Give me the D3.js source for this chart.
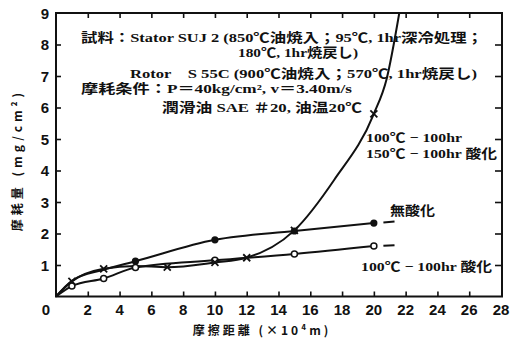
<!DOCTYPE html>
<html>
<head>
<meta charset="utf-8">
<script src="https://cdn.jsdelivr.net/npm/d3@7"></script>
<style>
  body { margin: 0; background: #fff; }
  svg { display: block; }
  .tick-label { font-family: "Liberation Sans Narrow", "Liberation Sans", sans-serif; font-weight: bold; font-size: 15px; fill: #111; }
  .note { font-family: "Liberation Serif", "Noto Sans CJK JP", serif; font-weight: bold; font-size: 13px; fill: #111; }
  .axis-title { font-family: "Noto Sans CJK JP", "Liberation Serif", sans-serif; font-weight: bold; font-size: 12px; fill: #111; }
</style>
</head>
<body>
<div id="chart"></div>
<script>
// wear distance (x10^4 m)
const dist = [0, 1, 3, 5, 10, 15, 20];
// no oxidation (filled circles)
const noOxid = [0, 0.5, 0.85, 1.12, 1.8, 2.08, 2.33];
// 100C-100hr oxidised (open circles)
const oxid100 = [0, 0.33, 0.57, 0.92, 1.15, 1.35, 1.6];
// line tails beyond the last point
const tailX = [20.6, 21.3];
const noOxidTail = [2.35, 2.38];
const oxid100Tail = [1.61, 1.63];
// 100C-100hr + 150C-100hr oxidised (crosses)
const crossX = [0, 1, 3, 5, 7, 10, 12, 15, 17.5, 20, 20.8, 21.6];
const crossY = [0, 0.48, 0.88, 0.97, 0.93, 1.08, 1.23, 2.1, 3.7, 5.8, 6.9, 9];
const crossMark = [0, 1, 1, 0, 1, 1, 1, 1, 0, 1, 0, 0];

const xTicks = [2, 4, 6, 8, 10, 12, 14, 16, 18, 20, 22, 24, 26, 28];
const yTicks = [1, 2, 3, 4, 5, 6, 7, 8, 9];

const W = 511, H = 340;
const svg = d3.select("#chart").append("svg").attr("width", W).attr("height", H);
svg.append("rect").attr("width", W).attr("height", H).attr("fill", "#fff");

const xScale = d3.scaleLinear().domain([0, 28]).range([56, 501]);
const yScale = d3.scaleLinear().domain([0, 9]).range([296.5, 13]);

// frame
svg.append("rect")
  .attr("x", xScale(0)).attr("y", yScale(9))
  .attr("width", xScale(28) - xScale(0) + 1).attr("height", yScale(0) - yScale(9))
  .attr("fill", "none").attr("stroke", "#111").attr("stroke-width", 2);

// axes with inward ticks
const axBottom = svg.append("g").attr("transform", `translate(0,${yScale(0)})`)
  .call(d3.axisBottom(xScale).tickValues(xTicks.slice(0, -1)).tickSize(-5).tickFormat(""));
const axTop = svg.append("g").attr("transform", `translate(0,${yScale(9)})`)
  .call(d3.axisTop(xScale).tickValues(xTicks.slice(0, -1)).tickSize(-5).tickFormat(""));
const axLeft = svg.append("g").attr("transform", `translate(${xScale(0)},0)`)
  .call(d3.axisLeft(yScale).tickValues(yTicks.slice(0, -1)).tickSize(-5).tickFormat(""));
const axRight = svg.append("g").attr("transform", `translate(${xScale(28) + 1},0)`)
  .call(d3.axisRight(yScale).tickValues(yTicks.slice(0, -1)).tickSize(-7).tickFormat(""));
[axBottom, axTop, axLeft, axRight].forEach(g => {
  g.select(".domain").remove();
  g.selectAll(".tick line").attr("stroke", "#111").attr("stroke-width", 1.6);
});

// tick labels
svg.selectAll("text.xl").data(xTicks).join("text")
  .attr("class", "tick-label xl")
  .attr("x", d => xScale(d)).attr("y", 315)
  .attr("text-anchor", "middle").text(d => d);
svg.selectAll("text.yl").data(yTicks).join("text")
  .attr("class", "tick-label yl")
  .attr("x", 49).attr("y", d => yScale(d) + 5.5)
  .attr("text-anchor", "end").text(d => d);
svg.append("text").attr("class", "tick-label").attr("x", 46).attr("y", 315)
  .attr("text-anchor", "middle").text("0");

// axis titles
svg.append("text").attr("class", "axis-title")
  .attr("x", 262).attr("y", 335).attr("text-anchor", "middle")
  .attr("letter-spacing", "3px")
  .text("摩擦距離 (×10⁴m)");
svg.append("text").attr("class", "axis-title")
  .attr("transform", "translate(22,160) rotate(-90)")
  .attr("text-anchor", "middle").attr("letter-spacing", "4px")
  .text("摩耗量 (mg/cm²)");

// lines
const line = d3.line().x(d => xScale(d[0])).y(d => yScale(d[1])).curve(d3.curveMonotoneX);
const drawLine = pts => svg.append("path").datum(pts)
  .attr("d", line).attr("fill", "none").attr("stroke", "#111").attr("stroke-width", 2);

drawLine(dist.map((x, i) => [x, noOxid[i]]));
drawLine(dist.map((x, i) => [x, oxid100[i]]));
drawLine(crossX.map((x, i) => [x, crossY[i]]));
drawLine(tailX.map((x, i) => [x, noOxidTail[i]]));
drawLine(tailX.map((x, i) => [x, oxid100Tail[i]]));

// markers
svg.selectAll("circle.filled").data(dist.slice(3).map((x, i) => [x, noOxid[i + 3]])).join("circle")
  .attr("class", "filled")
  .attr("cx", d => xScale(d[0])).attr("cy", d => yScale(d[1])).attr("r", 3.6)
  .attr("fill", "#111");
svg.selectAll("circle.open").data(dist.slice(1).map((x, i) => [x, oxid100[i + 1]])).join("circle")
  .attr("class", "open")
  .attr("cx", d => xScale(d[0])).attr("cy", d => yScale(d[1])).attr("r", 3)
  .attr("fill", "#fff").attr("stroke", "#111").attr("stroke-width", 1.5);
const crossPts = crossX.map((x, i) => [x, crossY[i]]).filter((d, i) => crossMark[i]);
const cross = svg.selectAll("g.cross").data(crossPts).join("g")
  .attr("class", "cross")
  .attr("transform", d => `translate(${xScale(d[0])},${yScale(d[1])})`);
cross.append("path").attr("d", "M-3.5,-3.5L3.5,3.5M-3.5,3.5L3.5,-3.5")
  .attr("stroke", "#111").attr("stroke-width", 1.8);

// annotations
const notes = [
  { x: 81, y: 42, w: 402, t: "試料：Stator SUJ 2 (850℃油焼入；95℃, 1hr深冷処理；" },
  { x: 238, y: 57, w: 120, t: "180℃, 1hr焼戻し)" },
  { x: 130, y: 78, w: 347, t: "Rotor　S 55C (900℃油焼入；570℃, 1hr焼戻し)" },
  { x: 81, y: 93, w: 271, t: "摩耗条件：P＝40kg/cm², v＝3.40m/s" },
  { x: 162, y: 112, w: 200, t: "潤滑油 SAE ＃20, 油温20℃" },
  { x: 366, y: 142, w: 96, t: "100℃ − 100hr" },
  { x: 366, y: 158, w: 131, t: "150℃ − 100hr 酸化" },
  { x: 390, y: 215, w: 45, t: "無酸化" },
  { x: 361, y: 271, w: 131, t: "100℃ − 100hr 酸化" }
];
svg.selectAll("text.note").data(notes).join("text")
  .attr("class", "note")
  .attr("x", d => d.x).attr("y", d => d.y)
  .attr("textLength", d => d.w).attr("lengthAdjust", "spacingAndGlyphs")
  .text(d => d.t);
</script>
</body>
</html>
